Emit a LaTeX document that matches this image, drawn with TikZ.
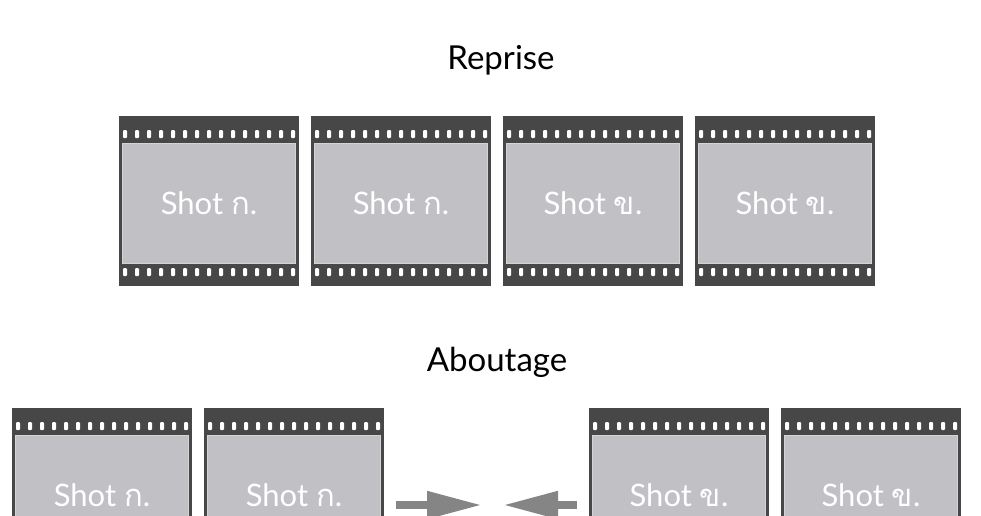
\documentclass[tikz,border=0pt]{standalone}
\usepackage{fontspec}
\setmainfont{Lato}
\newfontfamily\thaifont[Script=Thai]{Loma}
\usetikzlibrary{arrows.meta}
\definecolor{FilmDark}{HTML}{474747}
\definecolor{ShotGrey}{HTML}{C1C1C5}
\definecolor{ShotEdge}{HTML}{D4D4D7}
\definecolor{ArrowGrey}{HTML}{858585}

\begin{document}
\begin{tikzpicture}[x=1pt, y=-1pt,
  title/.style={font=\fontsize{33}{36}\selectfont, text=black},
  film/.style={rectangle, fill=FilmDark, inner sep=0pt,
               minimum width=180pt, minimum height=170pt},
  shot/.style={rectangle, fill=ShotGrey, draw=ShotEdge, line width=1.2pt, inner sep=0pt,
               minimum width=173pt, minimum height=120pt,
               text=white, font=\fontsize{31}{34}\selectfont},
  hole/.style={fill=white, rounded corners=1pt},
  arr/.style={-{Triangle[length=55pt, width=26pt]}, line width=8pt, draw=ArrowGrey, fill=ArrowGrey}
]
\useasboundingbox (0,0) rectangle (981,515);
\clip (0,0) rectangle (981,515);

% Titles
\node[title] (reprise) at (501,60) {Reprise};
\node[title] (aboutage) at (497,362) {Aboutage};

% Film frames
\foreach \name/\cx/\cy/\lab in {ra1/209/201/ก, ra2/401/201/ก, ra3/593/201/ข, ra4/785/201/ข,
                                ab1/102/493/ก, ab2/294/493/ก, ab3/679/493/ข, ab4/871/493/ข}{
  \node[film] (\name) at (\cx,\cy) {};
  \node[shot] (\name-shot) at ([yshift=-2.5pt]\name.center) {Shot {\thaifont\lab}.};
  \foreach \k in {0,...,14}{
    \fill[hole] ([shift={(-86+\k*12,-71)}]\name.center) rectangle ++(4,8);
    \fill[hole] ([shift={(-86+\k*12,67)}]\name.center) rectangle ++(4,8);
  }
}

% Arrows
\coordinate (lstart) at (396,505);
\coordinate (ltip) at (482,505);
\coordinate (rstart) at (577,505);
\coordinate (rtip) at (503,505);
\draw[arr] (lstart) -- (ltip);
\draw[arr] (rstart) -- (rtip);

\end{tikzpicture}
\end{document}
